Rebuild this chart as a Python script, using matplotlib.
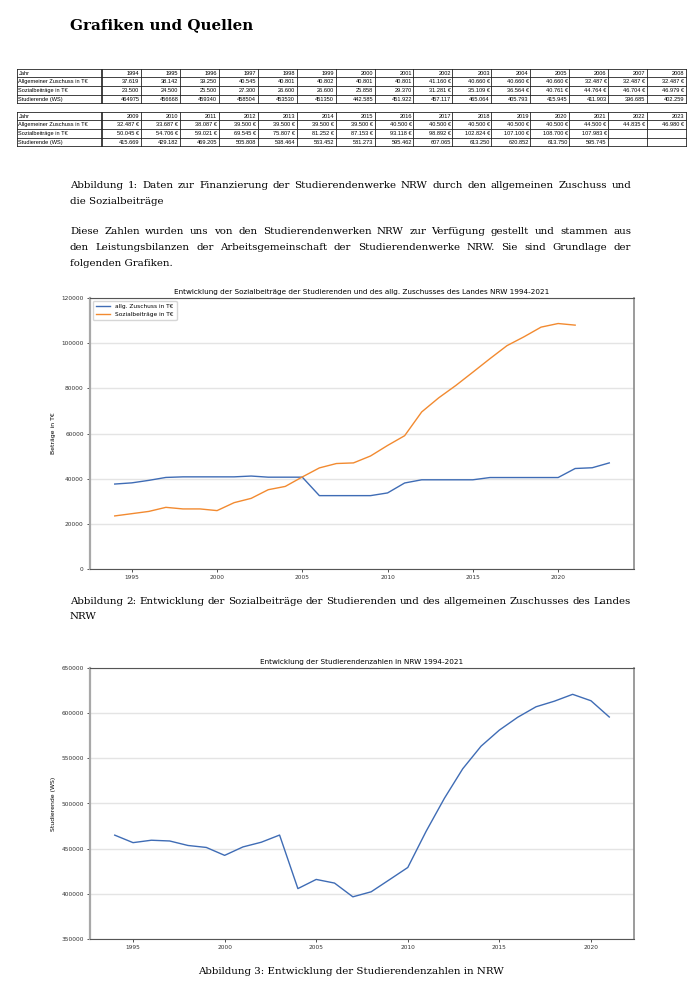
import matplotlib
matplotlib.use("Agg")
import matplotlib.pyplot as plt

# ---------------- data ----------------
years_zuschuss = list(range(1994, 2024))
zuschuss = [37619, 38142, 39250, 40545, 40801, 40802, 40801, 40801, 41160, 40660,
            40660, 40660, 32487, 32487, 32487, 32487, 33687, 38087, 39500, 39500,
            39500, 39500, 40500, 40500, 40500, 40500, 40500, 44500, 44835, 46980]
years_sozial = list(range(1994, 2022))
sozial = [23500, 24500, 25500, 27300, 26600, 26600, 25858, 29370, 31281, 35109,
          36564, 40761, 44764, 46704, 46979, 50045, 54706, 59021, 69545, 75807,
          81252, 87153, 93118, 98892, 102824, 107100, 108700, 107983]
years_stud = list(range(1994, 2022))
studierende = [464975, 456668, 459340, 458504, 453530, 451350, 442585, 451922,
               457117, 465064, 405793, 415945, 411903, 396685, 402259, 415669,
               429182, 469205, 505808, 538464, 563452, 581273, 595462, 607065,
               613250, 620852, 613750, 595745]
row_labels = ["Jahr", "Allgemeiner Zuschuss in T€", "Sozialbeiträge in T€", "Studierende (WS)"]
table_years = [list(range(1994, 2009)), list(range(2009, 2024))]

heading = "Grafiken und Quellen"
caption1 = ["Abbildung 1: Daten zur Finanzierung der Studierendenwerke NRW durch den allgemeinen Zuschuss und",
            "die Sozialbeiträge"]
paragraph = ["Diese Zahlen wurden uns von den Studierendenwerken NRW zur Verfügung gestellt und stammen aus",
             "den Leistungsbilanzen der Arbeitsgemeinschaft der Studierendenwerke NRW. Sie sind Grundlage der",
             "folgenden Grafiken."]
caption2 = ["Abbildung 2: Entwicklung der Sozialbeiträge der Studierenden und des allgemeinen Zuschusses des Landes",
            "NRW"]
caption3 = "Abbildung 3: Entwicklung der Studierendenzahlen in NRW"
title1 = "Entwicklung der Sozialbeiträge der Studierenden und des allg. Zuschusses des Landes NRW 1994-2021"
title2 = "Entwicklung der Studierendenzahlen in NRW 1994-2021"
legend_labels = ["allg. Zuschuss in T€", "Sozialbeiträge in T€"]

BLUE = "#3f6cb5"
ORANGE = "#f28a30"
SERIF = "DejaVu Serif"
SANS = "Liberation Sans"
W, H = 691, 992

fig = plt.figure(figsize=(W / 100, H / 100), dpi=100)
bg = fig.add_axes([0, 0, 1, 1])
bg.set_xlim(0, W)
bg.set_ylim(H, 0)
bg.axis("off")
renderer = fig.canvas.get_renderer()


def de(n):
    return f"{n:,}".replace(",", ".")


def money_cell(years, values, y):
    if y not in years:
        return ""
    v = values[years.index(y)]
    return de(v) if y < 2002 else de(v) + " €"


def stud_cell(y):
    if y not in years_stud:
        return ""
    v = studierende[years_stud.index(y)]
    return str(v) if y < 2000 else de(v)


def text_width(s, size, family=SERIF, **kw):
    t = bg.text(0, 0, s, fontsize=size, family=family, **kw)
    w = t.get_window_extent(renderer).width
    t.remove()
    return w


def fit_size(s, target, family=SERIF, **kw):
    return 10.0 * target / text_width(s, 10.0, family=family, **kw)


def justify(words_line, x0, x1, y, size, last=False):
    words = words_line.split(" ")
    if last or len(words) == 1:
        bg.text(x0, y, words_line, fontsize=size, family=SERIF, va="baseline", ha="left")
        return
    ts = [bg.text(0, y, w, fontsize=size, family=SERIF, va="baseline", ha="left") for w in words]
    widths = [t.get_window_extent(renderer).width for t in ts]
    gap = (x1 - x0 - sum(widths)) / (len(words) - 1)
    x = x0
    for t, w in zip(ts, widths):
        t.set_x(x)
        x += w + gap


# heading
hs = fit_size(heading, 183, weight="bold")
bg.text(70, 29, heading, fontsize=hs, family=SERIF, weight="bold", va="baseline")

# tables
tx0, tlab, tx1 = 17, 102, 686
rowh = 8.7
colw = (tx1 - tlab) / 15
lab_size = fit_size(row_labels[1], 70, family=SANS)
num_size = fit_size("102.824 €", 25, family=SANS)
for ti, ttop in enumerate([68.5, 111.5]):
    yrs = table_years[ti]
    rows = [[str(y) for y in yrs],
            [money_cell(years_zuschuss, zuschuss, y) for y in yrs],
            [money_cell(years_sozial, sozial, y) for y in yrs],
            [stud_cell(y) for y in yrs]]
    for r in range(5):
        yy = ttop + r * rowh
        bg.plot([tx0, tx1], [yy, yy], color="#222", lw=0.6)
    ybot = ttop + 4 * rowh
    bg.plot([tx0, tx0], [ttop, ybot], color="#222", lw=0.6)
    bg.plot([tlab - 1.2, tlab - 1.2], [ttop, ybot], color="#222", lw=0.6)
    for c in range(16):
        xx = tlab + c * colw
        bg.plot([xx, xx], [ttop, ybot], color="#222", lw=0.6)
    for r in range(4):
        yc = ttop + (r + 0.55) * rowh
        bg.text(tx0 + 1.5, yc, row_labels[r], fontsize=lab_size, family=SANS, va="center", ha="left")
        for c in range(15):
            bg.text(tlab + (c + 1) * colw - 1.5, yc, rows[r][c], fontsize=num_size,
                    family=SANS, va="center", ha="right")

# body text
BS = fit_size(caption1[0], 550)
justify(caption1[0], 70, 631, 188, BS)
justify(caption1[1], 70, 631, 204, BS, last=True)
justify(paragraph[0], 70, 631, 234, BS)
justify(paragraph[1], 70, 631, 250, BS)
justify(paragraph[2], 70, 631, 266, BS, last=True)
justify(caption2[0], 70, 631, 604, BS)
justify(caption2[1], 70, 631, 619, BS, last=True)
bg.text(350.5, 974, caption3, fontsize=BS, family=SERIF, va="baseline", ha="center")


def style(ax):
    ax.grid(axis="y", color="#e4e4e4", lw=1.0)
    ax.set_axisbelow(True)
    for s in ["top", "right", "bottom"]:
        ax.spines[s].set_color("#555555")
        ax.spines[s].set_linewidth(0.8)
    ax.spines["right"].set_color("#8a8a8a")
    ax.spines["right"].set_linewidth(1.2)
    ax.spines["left"].set_color("#a8a8a8")
    ax.spines["left"].set_linewidth(1.6)
    ax.tick_params(labelsize=4.2, length=2.5, width=0.6, colors="#333333", pad=2)


ax1 = fig.add_axes([90 / W, 1 - 569 / H, 544 / W, 271 / H])
ax1.plot(years_zuschuss, zuschuss, color=BLUE, lw=1.0, label=legend_labels[0])
ax1.plot(years_sozial, sozial, color=ORANGE, lw=1.0, label=legend_labels[1])
ax1.set_ylim(0, 120000)
ax1.set_xticks([1995, 2000, 2005, 2010, 2015, 2020])
ax1.set_title(title1, fontsize=5.2, pad=3)
ax1.set_ylabel("Beträge in T€", fontsize=4.4, labelpad=4)
style(ax1)
ax1.legend(loc="upper left", fontsize=4.2, frameon=True, edgecolor="#cccccc",
           handlelength=2.5, borderpad=0.5, labelspacing=0.5)

ax2 = fig.add_axes([90 / W, 1 - 939 / H, 544 / W, 271 / H])
ax2.plot(years_stud, studierende, color=BLUE, lw=1.0)
ax2.set_ylim(350000, 650000)
ax2.set_xticks([1995, 2000, 2005, 2010, 2015, 2020])
ax2.set_title(title2, fontsize=5.2, pad=3)
ax2.set_ylabel("Studierende (WS)", fontsize=4.4, labelpad=4)
style(ax2)

fig.savefig("out.png", dpi=100)
